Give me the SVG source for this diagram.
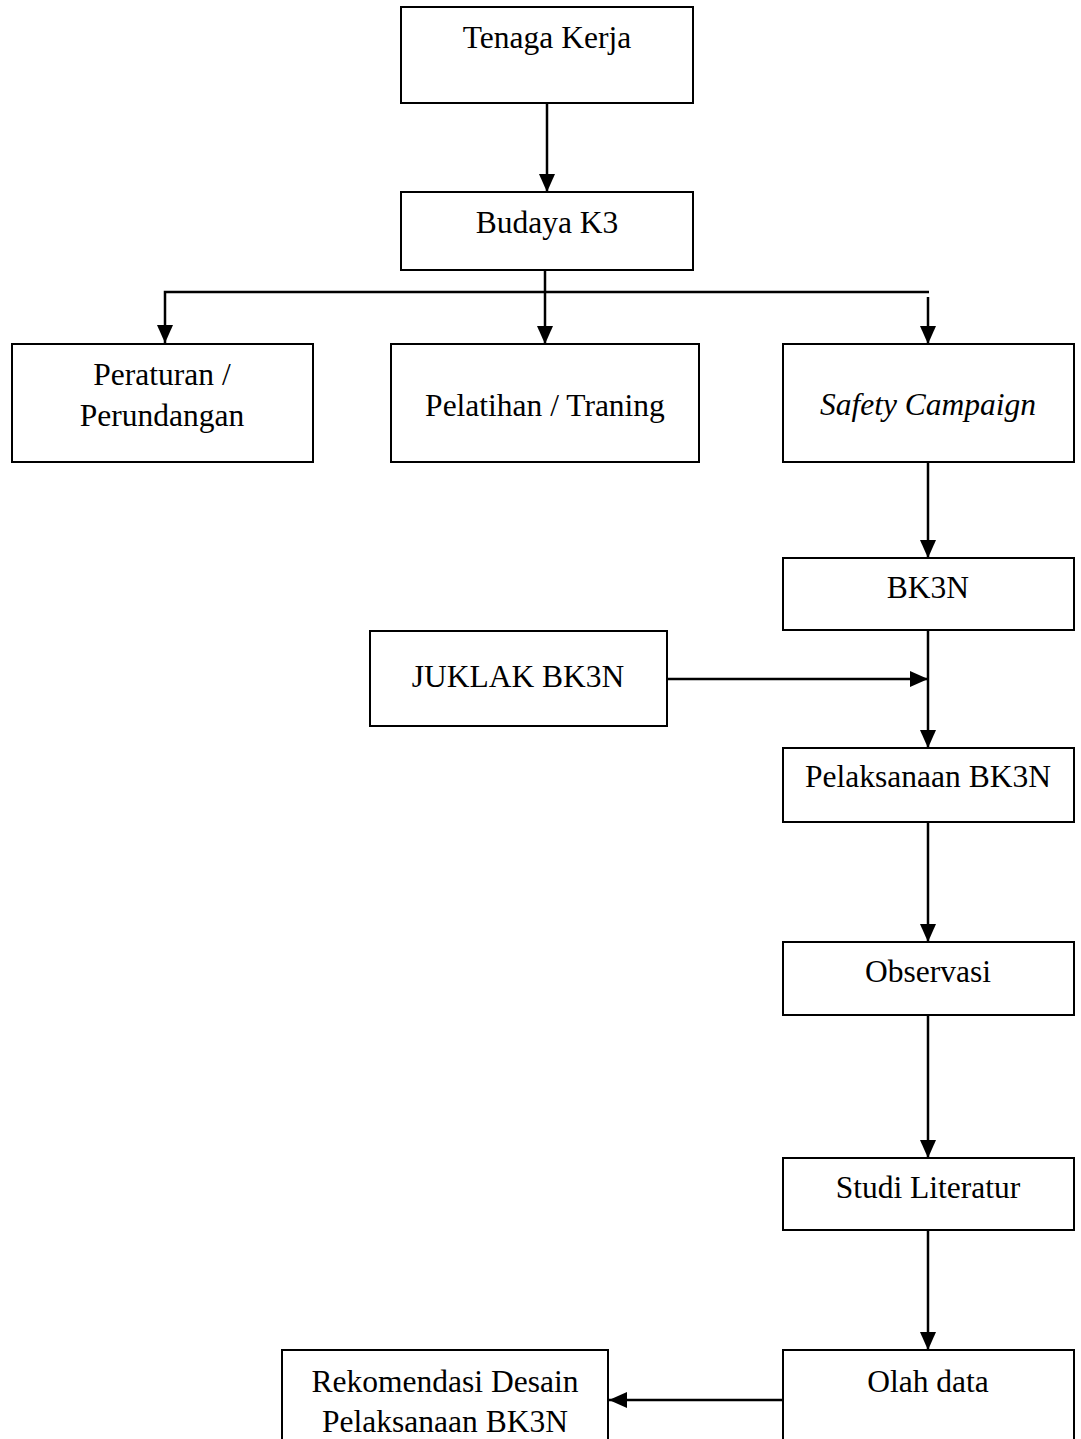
<svg xmlns="http://www.w3.org/2000/svg" width="1081" height="1439" viewBox="0 0 1081 1439">
<style>
.box{fill:#fff;stroke:#000;stroke-width:2}
.t{font-family:"Liberation Serif","Times New Roman",serif;font-size:31.5px;fill:#000;text-anchor:middle}
.i{font-style:italic}
.c{fill:none;stroke:#000;stroke-width:2.5}
</style>
<defs>
<marker id="ah" markerUnits="userSpaceOnUse" markerWidth="18" markerHeight="16" refX="18" refY="8" orient="auto">
<path d="M0,0 L18,8 L0,16 z" fill="#000"/>
</marker>
</defs>
<rect width="1081" height="1439" fill="#fff"/>
<g id="connectors">
<line class="c" x1="547" y1="103" x2="547" y2="192" marker-end="url(#ah)"/>
<line class="c" x1="545" y1="270" x2="545" y2="344" marker-end="url(#ah)"/>
<polyline class="c" points="929,292 165,292 165,343" marker-end="url(#ah)"/>
<line class="c" x1="928" y1="297" x2="928" y2="344" marker-end="url(#ah)"/>
<line class="c" x1="928" y1="462" x2="928" y2="558" marker-end="url(#ah)"/>
<line class="c" x1="928" y1="630" x2="928" y2="748" marker-end="url(#ah)"/>
<line class="c" x1="668" y1="679" x2="928" y2="679" marker-end="url(#ah)"/>
<line class="c" x1="928" y1="822" x2="928" y2="942" marker-end="url(#ah)"/>
<line class="c" x1="928" y1="1015" x2="928" y2="1158" marker-end="url(#ah)"/>
<line class="c" x1="928" y1="1230" x2="928" y2="1350" marker-end="url(#ah)"/>
<line class="c" x1="783" y1="1400" x2="609" y2="1400" marker-end="url(#ah)"/>
</g>
<g id="tenaga-kerja"><rect class="box" x="401" y="7" width="292" height="96"/><text class="t" x="547" y="48">Tenaga Kerja</text></g>
<g id="budaya-k3"><rect class="box" x="401" y="192" width="292" height="78"/><text class="t" x="547" y="233">Budaya K3</text></g>
<g id="peraturan"><rect class="box" x="12" y="344" width="301" height="118"/><text class="t" x="162" y="385">Peraturan /</text><text class="t" x="162" y="426">Perundangan</text></g>
<g id="pelatihan"><rect class="box" x="391" y="344" width="308" height="118"/><text class="t" x="545" y="416">Pelatihan / Traning</text></g>
<g id="safety-campaign"><rect class="box" x="783" y="344" width="291" height="118"/><text class="t i" x="928" y="415">Safety Campaign</text></g>
<g id="bk3n"><rect class="box" x="783" y="558" width="291" height="72"/><text class="t" x="928" y="598">BK3N</text></g>
<g id="juklak"><rect class="box" x="370" y="631" width="297" height="95"/><text class="t" x="518" y="687">JUKLAK BK3N</text></g>
<g id="pelaksanaan"><rect class="box" x="783" y="748" width="291" height="74"/><text class="t" x="928" y="787">Pelaksanaan BK3N</text></g>
<g id="observasi"><rect class="box" x="783" y="942" width="291" height="73"/><text class="t" x="928" y="982">Observasi</text></g>
<g id="studi-literatur"><rect class="box" x="783" y="1158" width="291" height="72"/><text class="t" x="928" y="1198">Studi Literatur</text></g>
<g id="olah-data"><rect class="box" x="783" y="1350" width="291" height="120"/><text class="t" x="928" y="1392">Olah data</text></g>
<g id="rekomendasi"><rect class="box" x="282" y="1350" width="326" height="120"/><text class="t" x="445" y="1392">Rekomendasi Desain</text><text class="t" x="445" y="1432">Pelaksanaan BK3N</text></g>
</svg>
